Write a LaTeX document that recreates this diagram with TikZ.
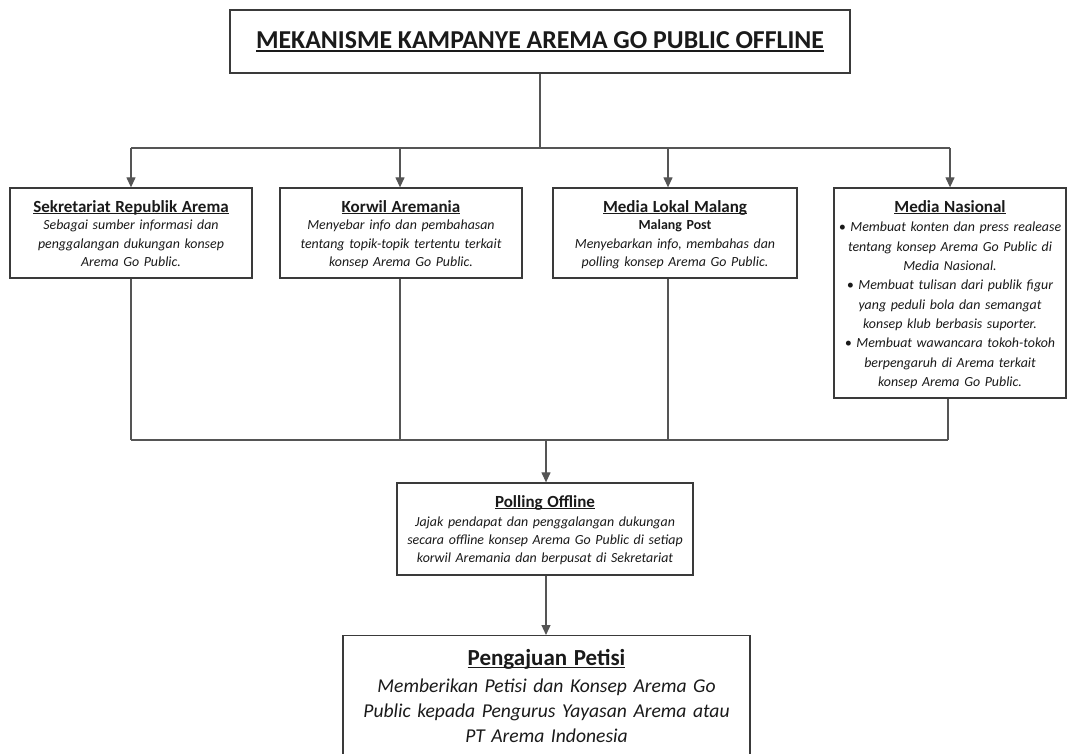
\documentclass[tikz,border=0pt]{standalone}
\usepackage{fontspec}
\setmainfont{Carlito}
\usetikzlibrary{arrows.meta}
\definecolor{boxc}{HTML}{3A3A3A}
\definecolor{linec}{HTML}{555555}
\definecolor{txt}{HTML}{1A1A1A}
\newcommand{\ulx}[1]{\leavevmode\setbox0=\hbox{#1}\rlap{\rule[-0.12em]{\wd0}{0.07em}}\box0}
\newcommand{\hd}[2][0pt]{{\fontsize{17}{20}\selectfont\bfseries\upshape\ulx{#2}\par}\vspace{#1}}
\begin{document}
\begin{tikzpicture}[x=1pt,y=-1pt,
  box/.style={draw=boxc, line width=1.3pt, fill=white, inner sep=0pt},
  txtn/.style={align=center, inner sep=0pt, anchor=north, text=txt},
  body/.style={txtn, font=\fontsize{13.9}{18.3}\selectfont\itshape},
  conn/.style={draw=linec, line width=1.2pt},
  arr/.style={conn, -{Triangle[length=10pt,width=9pt]}},
]
\useasboundingbox (0,0) rectangle (1070,753);
\clip (0,0) rectangle (1070,753);

% title
\node[box, minimum width=620pt, minimum height=63pt, font=\fontsize{25.8}{30}\selectfont\bfseries, text=txt] (title) at (540,41.5)
  {\ulx{MEKANISME KAMPANYE AREMA GO PUBLIC OFFLINE}};

% second row boxes
\node[box, minimum width=242pt, minimum height=90pt] (b1) at (131,233) {};
\node[box, minimum width=242pt, minimum height=90pt] (b2) at (401,233) {};
\node[box, minimum width=244pt, minimum height=90pt] (b3) at (675,233) {};
\node[box, minimum width=232pt, minimum height=210pt] (b4) at (950,293) {};

\node[body, text width=240pt] (b1t) at (131,200)
  {\hd[-0.5pt]{Sekretariat Republik Arema}
   Sebagai sumber informasi dan\\
   penggalangan dukungan konsep\\ Arema Go Public.};
\node[body, text width=240pt] (b2t) at (401,200)
  {\hd[-0.5pt]{Korwil Aremania}
   Menyebar info dan pembahasan\\
   tentang topik-topik tertentu terkait\\ konsep Arema Go Public.};
\node[body, text width=242pt] (b3t) at (675,200)
  {\hd[-0.5pt]{Media Lokal Malang}
   {\upshape\bfseries Malang Post}\\
   Menyebarkan info, membahas dan\\
   polling konsep Arema Go Public.};
\node[body, font=\fontsize{13.9}{19.3}\selectfont\itshape, text width=234pt] (b4t) at (950,200)
  {\hd[0.5pt]{Media Nasional}
   \textbullet\ Membuat konten dan press realease\\
   tentang konsep Arema Go Public di\\
   Media Nasional.\\
   \textbullet\ Membuat tulisan dari publik figur\\
   yang peduli bola dan semangat\\
   konsep klub berbasis suporter.\\
   \textbullet\ Membuat wawancara tokoh-tokoh\\
   berpengaruh di Arema terkait\\
   konsep Arema Go Public.};

% polling
\node[box, minimum width=296pt, minimum height=92pt] (poll) at (545,529) {};
\node[body, font=\fontsize{13.9}{18}\selectfont\itshape, text width=294pt] (pollt) at (545,495)
  {\hd[1pt]{Polling Offline}
   Jajak pendapat dan penggalangan dukungan\\
   secara offline konsep Arema Go Public di setiap\\
   korwil Aremania dan berpusat di Sekretariat};

% petisi
\node[box, minimum width=407pt, minimum height=160pt, anchor=north] (pet) at (546.5,635) {};
\node[txtn, text width=405pt, font=\fontsize{19.6}{25}\selectfont\itshape] (pett) at (546.5,649)
  {{\fontsize{23}{26}\selectfont\bfseries\upshape\ulx{Pengajuan Petisi}\par}\vspace{2pt}
   Memberikan Petisi dan Konsep Arema Go\\
   Public kepada Pengurus Yayasan Arema atau\\
   PT Arema Indonesia};

% connectors top
\coordinate (hub) at (540,148);
\coordinate (t1) at (131,148);
\coordinate (t2) at (400,148);
\coordinate (t3) at (668,148);
\coordinate (t4) at (950,148);
\draw[conn] (title) -- (hub);
\draw[conn] (t1) -- (t4);
\draw[arr] (t1) -- (t1 |- b1.north);
\draw[arr] (t2) -- (t2 |- b2.north);
\draw[arr] (t3) -- (t3 |- b3.north);
\draw[arr] (t4) -- (t4 |- b4.north);

% connectors bottom
\coordinate (u1) at (131,440);
\coordinate (u2) at (400,440);
\coordinate (u3) at (668,440);
\coordinate (u4) at (948,440);
\coordinate (v) at (546,440);
\draw[conn] (u1 |- b1.south) -- (u1);
\draw[conn] (u2 |- b2.south) -- (u2);
\draw[conn] (u3 |- b3.south) -- (u3);
\draw[conn] (u4 |- b4.south) -- (u4);
\draw[conn] (u1) -- (u4);
\draw[arr] (v) -- (v |- poll.north);
\draw[arr] (v |- poll.south) -- (v |- pet.north);
\end{tikzpicture}
\end{document}
